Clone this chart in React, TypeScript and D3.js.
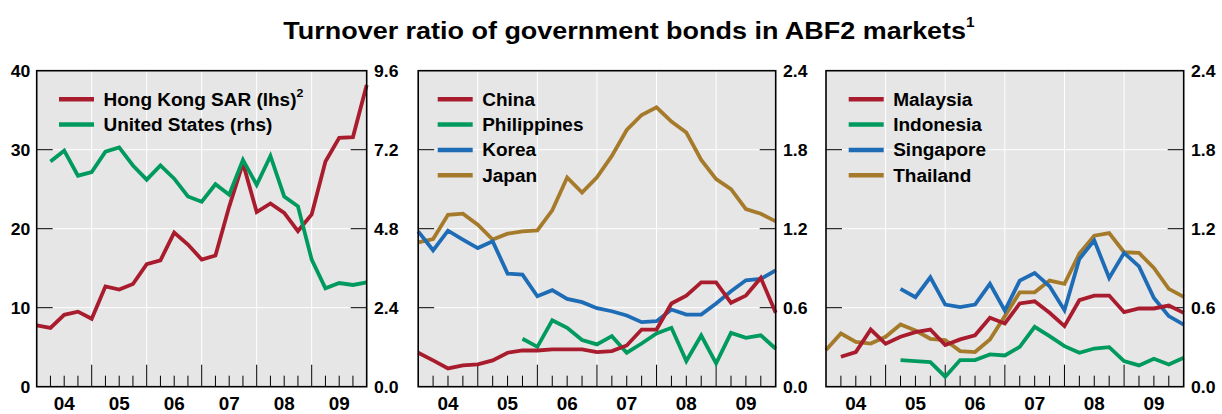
import React from "react";
import * as d3 from "d3";

const quarters = d3.range(25);
const yearLabels = ["04", "05", "06", "07", "08", "09"];

const hongKong = [7.75, 7.45, 9.1, 9.5, 8.6, 12.7, 12.3, 13.0, 15.5, 16.0, 19.5, 18.0, 16.1, 16.6, 22.8, 28.3, 22.1, 23.2, 22.0, 19.7, 21.8, 28.5, 31.5, 31.6, 38.2];
const unitedStates = [null, 6.84, 7.17, 6.41, 6.52, 7.14, 7.27, 6.72, 6.29, 6.72, 6.32, 5.78, 5.62, 6.15, 5.83, 6.89, 6.13, 7.01, 5.78, 5.48, 3.86, 2.99, 3.15, 3.09, 3.17];

const china = [0.258, 0.2, 0.139, 0.162, 0.169, 0.2, 0.258, 0.275, 0.275, 0.283, 0.283, 0.283, 0.263, 0.27, 0.313, 0.434, 0.434, 0.632, 0.692, 0.793, 0.793, 0.637, 0.692, 0.826, 0.561];
const philippines = [null, null, null, null, null, null, null, 0.364, 0.303, 0.505, 0.447, 0.354, 0.321, 0.384, 0.258, 0.328, 0.404, 0.447, 0.195, 0.389, 0.177, 0.409, 0.371, 0.39, 0.288];
const korea = [1.18, 1.036, 1.185, 1.117, 1.053, 1.104, 0.859, 0.851, 0.687, 0.733, 0.667, 0.642, 0.596, 0.573, 0.541, 0.49, 0.498, 0.586, 0.548, 0.548, 0.632, 0.725, 0.808, 0.818, 0.884];
const japan = [1.096, 1.121, 1.306, 1.314, 1.23, 1.117, 1.162, 1.18, 1.187, 1.339, 1.589, 1.475, 1.591, 1.753, 1.95, 2.064, 2.122, 2.013, 1.93, 1.723, 1.576, 1.5, 1.349, 1.314, 1.256];

const malaysia = [null, 0.227, 0.263, 0.434, 0.326, 0.379, 0.414, 0.434, 0.316, 0.359, 0.39, 0.523, 0.48, 0.632, 0.649, 0.561, 0.46, 0.657, 0.692, 0.692, 0.566, 0.594, 0.594, 0.616, 0.561];
const indonesia = [null, null, null, null, null, 0.202, 0.195, 0.187, 0.076, 0.202, 0.202, 0.245, 0.237, 0.303, 0.455, 0.384, 0.308, 0.258, 0.29, 0.3, 0.195, 0.162, 0.212, 0.169, 0.22];
const singapore = [null, null, null, null, null, 0.743, 0.68, 0.831, 0.624, 0.604, 0.624, 0.781, 0.578, 0.806, 0.864, 0.763, 0.581, 0.97, 1.111, 0.826, 1.016, 0.914, 0.674, 0.536, 0.472];
const thailand = [0.278, 0.404, 0.341, 0.328, 0.379, 0.472, 0.427, 0.364, 0.354, 0.27, 0.263, 0.359, 0.536, 0.717, 0.717, 0.806, 0.781, 1.011, 1.147, 1.167, 1.021, 1.016, 0.902, 0.743, 0.682];

const lhsTicks = [0, 10, 20, 30, 40];
const rhsTicks1 = [0, 2.4, 4.8, 7.2, 9.6];
const rhsTicks = [0, 0.6, 1.2, 1.8, 2.4];

const RED = "#a81c2e";
const GREEN = "#009a5f";
const BLUE = "#1f6cb6";
const GOLD = "#a57b2b";

const FONT = "'Liberation Sans', Arial, Helvetica, sans-serif";
const TOP = 70.7;
const BOTTOM = 386.7;
const SX = 1.08;

type Series = { name: string; sup?: string; values: (number | null)[]; color: string; axis: "l" | "r" };

type Panel = {
  x0: number;
  x1: number;
  lhs?: number[];
  rhs: number[];
  rhsFmt: (v: number) => string;
  series: Series[];
  legendX: number;
};

const panels: Panel[] = [
  {
    x0: 36.7,
    x1: 366.7,
    lhs: lhsTicks,
    rhs: rhsTicks1,
    rhsFmt: d3.format(".1f"),
    legendX: 59,
    series: [
      { name: "Hong Kong SAR (lhs)", sup: "2", values: hongKong, color: RED, axis: "l" },
      { name: "United States (rhs)", values: unitedStates, color: GREEN, axis: "r" },
    ],
  },
  {
    x0: 418.2,
    x1: 775.7,
    rhs: rhsTicks,
    rhsFmt: d3.format(".1f"),
    legendX: 437.7,
    series: [
      { name: "Japan", values: japan, color: GOLD, axis: "r" },
      { name: "Korea", values: korea, color: BLUE, axis: "r" },
      { name: "Philippines", values: philippines, color: GREEN, axis: "r" },
      { name: "China", values: china, color: RED, axis: "r" },
    ],
  },
  {
    x0: 826,
    x1: 1183.7,
    rhs: rhsTicks,
    rhsFmt: d3.format(".1f"),
    legendX: 848.7,
    series: [
      { name: "Thailand", values: thailand, color: GOLD, axis: "r" },
      { name: "Singapore", values: singapore, color: BLUE, axis: "r" },
      { name: "Indonesia", values: indonesia, color: GREEN, axis: "r" },
      { name: "Malaysia", values: malaysia, color: RED, axis: "r" },
    ],
  },
];

const legendOrder = (p: Panel) => (p.series.length === 4 ? [...p.series].reverse() : p.series);

function T({ x, y, size, anchor = "start", dy, sx = SX, children }: { x: number; y: number; size: number; anchor?: string; dy?: string; sx?: number; children: React.ReactNode }) {
  return (
    <g transform={`translate(${x},${y}) scale(${sx},1)`}>
      <text x={0} y={0} dy={dy} textAnchor={anchor} fontSize={size} fontWeight="bold" fontFamily={FONT} fill="#000">
        {children}
      </text>
    </g>
  );
}

function PanelView({ p }: { p: Panel }) {
  const x = d3.scaleLinear().domain([0, 24]).range([p.x0, p.x1]);
  const yl = p.lhs ? d3.scaleLinear().domain([0, d3.max(p.lhs)!]).range([BOTTOM, TOP]) : null;
  const yr = d3.scaleLinear().domain([0, d3.max(p.rhs)!]).range([BOTTOM, TOP]);
  const gridY = p.rhs.slice(1, -1);
  const years = d3.range(1, 6).map((k) => k * 4);
  return (
    <g>
      <rect x={p.x0} y={TOP} width={p.x1 - p.x0} height={BOTTOM - TOP} fill="#e6e6e6" />
      {gridY.map((v) => (
        <line key={"gy" + v} x1={p.x0} x2={p.x1} y1={yr(v)} y2={yr(v)} stroke="#fff" strokeWidth={1} />
      ))}
      {years.map((q) => (
        <line key={"gx" + q} x1={x(q)} x2={x(q)} y1={TOP} y2={BOTTOM} stroke="#fff" strokeWidth={1} />
      ))}
      {gridY.map((v) => (
        <g key={"t" + v}>
          <line x1={p.x0} x2={p.x0 + 16} y1={yr(v)} y2={yr(v)} stroke="#000" strokeWidth={1} />
          <line x1={p.x1 - 16} x2={p.x1} y1={yr(v)} y2={yr(v)} stroke="#000" strokeWidth={1} />
        </g>
      ))}
      {quarters.slice(1, -1).map((q) => (
        <line key={"xt" + q} x1={x(q)} x2={x(q)} y1={BOTTOM} y2={BOTTOM - (q % 4 === 0 ? 22 : 11)} stroke="#000" strokeWidth={1} />
      ))}
      {p.series.map((s) => {
        const y = s.axis === "l" && yl ? yl : yr;
        const line = d3
          .line<number | null>()
          .defined((d) => d !== null)
          .x((_, i) => x(i))
          .y((d) => y(d as number));
        return <path key={s.name} d={line(s.values) || ""} fill="none" stroke={s.color} strokeWidth={3.8} strokeLinejoin="miter" />;
      })}
      <rect x={p.x0} y={TOP} width={p.x1 - p.x0} height={BOTTOM - TOP} fill="none" stroke="#000" strokeWidth={1.6} />
      {p.lhs && yl &&
        p.lhs.map((v) => (
          <T key={"ll" + v} x={p.x0 - 6.5} y={yl(v)} dy="0.36em" anchor="end" size={16.3}>
            {v}
          </T>
        ))}
      {p.rhs.map((v) => (
        <T key={"rl" + v} x={p.x1 + 7.3} y={yr(v)} dy="0.36em" size={16.3}>
          {p.rhsFmt(v)}
        </T>
      ))}
      {yearLabels.map((lab, i) => (
        <T key={lab} x={x(i * 4 + 2)} y={410} anchor="middle" size={17.5}>
          {lab}
        </T>
      ))}
      {legendOrder(p).map((s, i) => {
        const ly = 99.3 + i * 25.3;
        return (
          <g key={"lg" + s.name}>
            <line x1={p.legendX} x2={p.legendX + 35} y1={ly} y2={ly} stroke={s.color} strokeWidth={4.5} />
            <T x={p.legendX + 44.5} y={ly} dy="0.36em" size={17.6}>
              {s.name}
              {s.sup && (
                <tspan fontSize={11.5} dy="-0.75em">
                  {s.sup}
                </tspan>
              )}
            </T>
          </g>
        );
      })}
    </g>
  );
}

export default function App() {
  return (
    <svg width={1222} height={414} style={{ position: "absolute", left: 0, top: 0, background: "#fff" }}>
      <T x={629} y={39.3} anchor="middle" size={24.5} sx={1.1}>
        Turnover ratio of government bonds in ABF2 markets
        <tspan fontSize={14} dy="-0.85em">1</tspan>
      </T>
      {panels.map((p, i) => (
        <PanelView key={i} p={p} />
      ))}
    </svg>
  );
}
